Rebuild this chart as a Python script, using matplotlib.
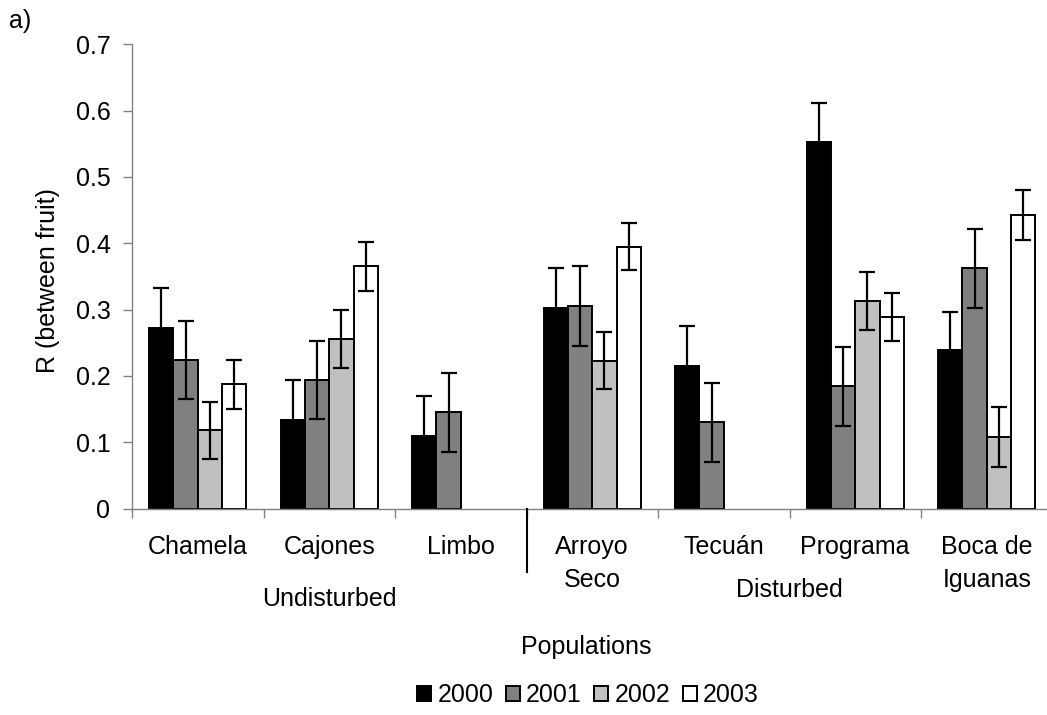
import numpy as np
import matplotlib
matplotlib.use("Agg")
import matplotlib.pyplot as plt
from matplotlib.transforms import blended_transform_factory

# ---- data ----
categories = ["Chamela", "Cajones", "Limbo", "Arroyo\nSeco", "Tecuán", "Programa", "Boca de\nIguanas"]
years = ["2000", "2001", "2002", "2003"]
vals_2000 = [0.272, 0.134, 0.109, 0.302, 0.215, 0.552, 0.239]
vals_2001 = [0.224, 0.194, 0.145, 0.305, 0.130, 0.184, 0.362]
vals_2002 = [0.118, 0.256, np.nan, 0.223, np.nan, 0.313, 0.108]
vals_2003 = [0.187, 0.365, np.nan, 0.395, np.nan, 0.289, 0.443]
err_2000 = [0.060, 0.060, 0.060, 0.060, 0.060, 0.060, 0.057]
err_2001 = [0.059, 0.059, 0.060, 0.060, 0.060, 0.060, 0.060]
err_2002 = [0.043, 0.044, np.nan, 0.043, np.nan, 0.044, 0.045]
err_2003 = [0.037, 0.037, np.nan, 0.036, np.nan, 0.036, 0.038]
groups = ["Undisturbed", "Disturbed"]
group_sizes = [3, 4]
y_ticks = [0, 0.1, 0.2, 0.3, 0.4, 0.5, 0.6, 0.7]
y_ticklabels = ["0", "0.1", "0.2", "0.3", "0.4", "0.5", "0.6", "0.7"]

series = [vals_2000, vals_2001, vals_2002, vals_2003]
errors = [err_2000, err_2001, err_2002, err_2003]
colors = ["#000000", "#808080", "#c0c0c0", "#ffffff"]

plt.rcParams['font.family'] = ['Liberation Sans', 'DejaVu Sans']
FS = 18

W, H = 1047, 715
fig = plt.figure(figsize=(W / 100, H / 100), dpi=100)
ax_left, ax_right, ax_top, ax_bottom = 132, 1052.5, 44.3, 508.5
ax = fig.add_axes([ax_left / W, 1 - ax_bottom / H, (ax_right - ax_left) / W, (ax_bottom - ax_top) / H])

n = len(categories)
x = np.arange(n) + 0.5
bw = 0.185
for i, (vals, errs, c) in enumerate(zip(series, errors, colors)):
    xs = x + (i - 1.5) * bw
    ax.bar(xs, vals, width=bw, color=c, edgecolor="black", linewidth=1.4, label=years[i], zorder=2)
    ax.errorbar(xs, vals, yerr=errs, fmt="none", ecolor="black", elinewidth=1.6,
                capsize=5.5, capthick=1.6, zorder=3)

ax.set_xlim(0, n)
ax.set_ylim(0, 0.7)
ax.set_yticks(y_ticks)
ax.set_yticklabels(y_ticklabels, fontsize=FS)
ax.set_xticks(np.arange(n + 1))
ax.set_xticklabels([])
for s in ["top", "right"]:
    ax.spines[s].set_visible(False)
for s in ["left", "bottom"]:
    ax.spines[s].set_color("#808080")
    ax.spines[s].set_linewidth(1.0)
ax.tick_params(axis="y", direction="out", length=6.5, width=1.0, color="#808080", pad=9)
ax.tick_params(axis="x", direction="out", length=6.5, width=1.0, color="#808080")

# separator between groups
sep = group_sizes[0]
ax.plot([sep, sep], [0, -0.0965], color="black", lw=1.5, clip_on=False, zorder=4)

trans = blended_transform_factory(ax.transData, fig.transFigure)
line_y = [547, 580]
for xi, lab in zip(x, categories):
    for k, line in enumerate(lab.split("\n")):
        ax.text(xi, 1 - line_y[k] / H, line, transform=trans, ha="center", va="center", fontsize=FS)

# group labels
start = 0
group_y = [599, 590]
for g, size, gy in zip(groups, group_sizes, group_y):
    ax.text(start + size / 2, 1 - gy / H, g, transform=trans, ha="center", va="center", fontsize=FS)
    start += size

fig.text(586.5 / W, 1 - 647 / H, "Populations", ha="center", va="center", fontsize=FS)
fig.text(48 / W, 1 - 281 / H, "R (between fruit)", ha="center", va="center", rotation=90, fontsize=FS)
fig.text(20 / W, 1 - 21 / H, "a)", ha="center", va="center", fontsize=FS)

handles, labels = ax.get_legend_handles_labels()
leg = fig.legend(handles, labels, loc="center", bbox_to_anchor=(588 / W, 1 - 695 / H), ncol=4,
                 frameon=False, fontsize=FS, handlelength=0.56, handleheight=0.56,
                 handletextpad=0.25, columnspacing=0.5, borderaxespad=0)

fig.savefig("out.png", dpi=100)
